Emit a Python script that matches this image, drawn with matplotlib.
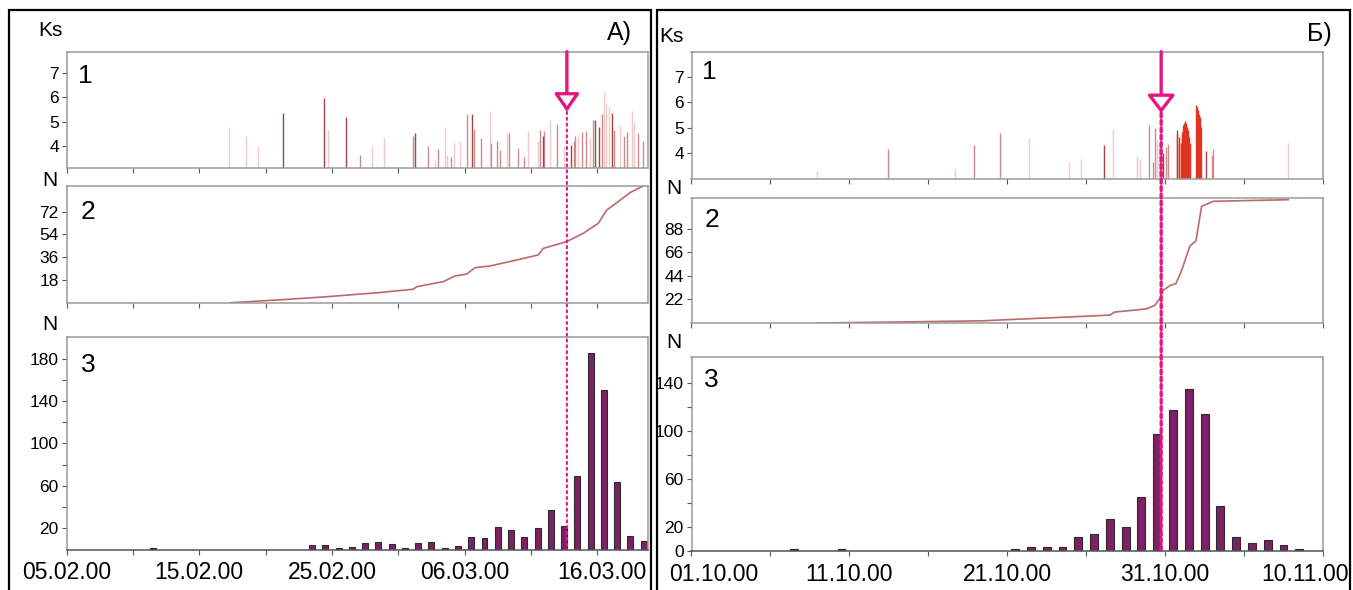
import numpy as np
import pandas as pd
import matplotlib
matplotlib.use('Agg')
import matplotlib.pyplot as plt
import matplotlib.dates as mdates
import matplotlib.transforms as mtrans
from matplotlib.patches import Rectangle, ConnectionPatch
from matplotlib.ticker import FixedLocator, NullFormatter

plt.rcParams['font.family'] = ['Liberation Sans', 'DejaVu Sans']

W, H = 1353, 590

# ---------------- panel A) : February - March 2000 ----------------
start_a = '2000-02-05'
span_a = 43.82  # days shown
# Ks events: day offset from start, energy class, shade (0 dark .. 2 light)
ks_a_day = [12.27, 13.50, 14.41, 16.29, 19.40, 19.71, 21.04, 22.12, 23.00, 23.90,
            26.09, 26.26, 27.24, 27.77, 27.97, 28.52, 28.65, 28.98, 29.18, 29.65,
            30.18, 30.53, 30.69, 31.21, 31.91, 31.97, 32.46, 32.64, 33.17, 33.37,
            34.00, 34.50, 34.75, 35.55, 35.70, 35.89, 36.01, 36.41, 36.99, 37.49,
            37.99, 38.22, 38.34, 38.55, 38.87, 39.17, 39.43, 39.65, 39.80, 40.13,
            40.35, 40.48, 40.63, 40.86, 41.11, 41.26, 41.71, 41.99, 42.22, 42.64,
            42.79, 43.09, 43.42]
ks_a_val = [4.79, 4.41, 4.00, 5.37, 5.96, 4.66, 5.18, 3.63, 4.00, 4.33,
            4.41, 4.52, 4.00, 3.42, 3.86, 4.77, 3.63, 3.56, 4.11, 4.22,
            5.32, 5.32, 4.69, 4.32, 5.45, 4.11, 4.22, 3.84, 4.52, 4.52,
            3.91, 3.54, 4.63, 4.22, 4.66, 4.41, 4.63, 5.07, 4.90, 4.00,
            4.04, 4.22, 4.41, 4.41, 4.59, 4.63, 4.32, 5.07, 5.07, 4.77,
            5.32, 6.23, 5.75, 5.59, 5.37, 4.66, 4.86, 4.41, 4.59, 5.45,
            5.00, 4.52, 4.22]
ks_a_tone = [2, 2, 2, 0, 0, 2, 0, 1, 2, 2,
             1, 0, 1, 2, 1, 2, 2, 1, 2, 2,
             1, 0, 1, 1, 2, 1, 1, 1, 2, 1,
             1, 1, 2, 2, 1, 0, 1, 2, 1, 2,
             0, 1, 1, 2, 1, 1, 2, 1, 0, 0,
             1, 2, 2, 2, 0, 1, 2, 1, 1, 2,
             2, 1, 1]
# cumulative number of events
cum_a_day = [12.27, 16.3, 19.61, 23.5, 26.13, 26.39, 28.39, 29.28, 30.16, 30.78,
             31.91, 33.8, 35.55, 35.93, 37.69, 38.94, 40.08, 40.71, 41.33, 42.46, 43.47]
cum_a_n = [0, 2.5, 4.8, 8.0, 10.7, 12.7, 16.7, 21.2, 22.7, 27.7,
           29.1, 33.5, 37.8, 43.0, 48.3, 54.9, 62.8, 73.3, 78.0, 87.0, 92.3]
# daily number of events
bar_a_day = [6, 18, 19, 20, 21, 22, 23, 24, 25, 26, 27, 28, 29, 30, 31, 32, 33, 34,
             35, 36, 37, 38, 39, 40, 41, 42, 43]
bar_a_n = [1, 4, 4, 1, 2, 6, 7, 5, 1, 6, 7, 1, 3, 12, 11, 21, 18, 12,
           20, 37, 22, 69, 185, 150, 64, 13, 8]
ticks_a = ['2000-02-05', '2000-02-15', '2000-02-25', '2000-03-06', '2000-03-16']
marker_a = '2000-03-13 17:00'

# ---------------- panel Б) : October - November 2000 ----------------
start_b = '2000-10-01'
span_b = 40.0
ks_b_day = [7.93, 12.43, 16.69, 17.91, 19.52, 21.37, 23.89, 24.69, 26.12, 26.68,
            28.19, 28.40, 28.99, 29.21, 29.37, 29.50, 29.63, 29.75, 29.88, 30.05,
            30.18,
            30.73, 30.78, 30.85, 30.91, 30.98, 31.04, 31.10, 31.15, 31.21, 31.27,
            31.33, 31.39, 31.45, 31.51, 31.57,
            31.98, 32.03, 32.08, 32.13, 32.18, 32.23, 32.28,
            32.58, 32.96, 33.05, 37.80]
ks_b_val = [3.32, 4.18, 3.41, 4.31, 4.81, 4.59, 3.67, 3.80, 4.31, 4.96,
            3.89, 3.80, 5.10, 3.67, 4.98, 4.52, 4.39, 4.26, 4.00, 4.26,
            4.36,
            4.91, 4.75, 4.63, 4.45, 4.39, 4.60, 4.85, 5.11, 5.20, 5.28,
            5.20, 5.04, 4.90, 4.65, 4.40,
            5.89, 5.80, 5.70, 5.55, 5.44, 5.25, 5.04,
            4.09, 3.93, 4.18, 4.39]
ks_b_tone = [2, 1, 2, 1, 1, 2, 2, 2, 0, 2,
             2, 2, 1, 1, 1, 2, 2, 1, 0, 1,
             1,
             3, 3, 3, 3, 3, 3, 3, 3, 3, 3,
             3, 3, 3, 3, 3,
             3, 3, 3, 3, 3, 3, 3,
             0, 1, 1, 2]
cum_b_day = [7.98, 13.48, 18.56, 19.54, 24.19, 26.5, 26.8, 28.83, 29.35, 29.67,
             29.88, 30.31, 30.68, 31.04, 31.57, 31.95, 32.31, 33.05, 37.8]
cum_b_n = [0, 1.0, 2.1, 2.8, 5.8, 7.4, 10.2, 13.2, 16.6, 22.8,
           30.5, 35.1, 36.7, 49.0, 72.0, 76.7, 109.0, 113.7, 115.2]
bar_b_day = [6, 9, 20, 21, 22, 23, 24, 25, 26, 27, 28, 29, 30, 31, 32, 33, 34, 35,
             36, 37, 38]
bar_b_n = [1, 1, 1, 3, 3, 3, 11, 14, 26, 20, 45, 97, 117, 135, 114, 37, 11, 6,
           9, 5, 1]
ticks_b = ['2000-10-01', '2000-10-11', '2000-10-21', '2000-10-31', '2000-11-10']
marker_b = '2000-10-30 18:00'

TONES = ['#9e4646', '#cf8a8a', '#f0caca', '#e03322']
MAGENTA = '#e2177f'


def days_to_dates(start, days):
    return pd.Timestamp(start) + pd.to_timedelta(np.asarray(days, dtype=float), unit='D')


def fig_axes(fig, x0, x1, y0, y1):
    return fig.add_axes([x0 / W, 1 - y1 / H, (x1 - x0) / W, (y1 - y0) / H])


def style_axes(ax, start, span, ticks, show_dates):
    for s in ax.spines.values():
        s.set_color('#9a9a9a')
        s.set_linewidth(1.1)
    s0 = pd.Timestamp(start)
    ax.set_xlim(mdates.date2num(s0), mdates.date2num(s0 + pd.Timedelta(days=span)))
    ax.xaxis.set_major_locator(FixedLocator(mdates.date2num(pd.to_datetime(ticks))))
    minor = pd.date_range(s0, s0 + pd.Timedelta(days=span), freq='5D')
    ax.xaxis.set_minor_locator(FixedLocator(mdates.date2num(minor)))
    ax.tick_params(axis='both', which='both', direction='out', length=3.5,
                   width=0.8, color='#555555', labelsize=12.5, pad=2)
    if show_dates:
        ax.xaxis.set_major_formatter(mdates.DateFormatter('%d.%m.%y'))
        ax.tick_params(axis='x', labelsize=16.5, pad=5)
        ax.spines['bottom'].set_color('#555555')
    else:
        ax.xaxis.set_major_formatter(NullFormatter())


def draw_panel(fig, box, start, span, ticks, ks_day, ks_val, ks_tone, ks_lim,
               ks_ticks, cum_day, cum_n, cum_lim, cum_ticks, bar_day, bar_n,
               bar_lim, bar_major, bar_minor, bar_width, marker, tip, dot_lw,
               dot_style, head_w):
    x0, x1, r1, r2, r3 = box
    ax1 = fig_axes(fig, x0, x1, *r1)
    ax2 = fig_axes(fig, x0, x1, *r2)
    ax3 = fig_axes(fig, x0, x1, *r3)

    # 1: energy class of events
    t = days_to_dates(start, ks_day)
    tone = np.array(ks_tone)
    val = np.array(ks_val)
    for k in [2, 1, 0, 3]:
        m = tone == k
        ax1.vlines(t[m], ks_lim[0], val[m], colors=TONES[k], lw=1.0)
    ax1.set_ylim(*ks_lim)
    ax1.set_yticks(ks_ticks)

    # 2: cumulative number
    ax2.plot(days_to_dates(start, cum_day), cum_n, color='#bb6a6a', lw=1.2)
    ax2.set_ylim(*cum_lim)
    ax2.set_yticks(cum_ticks)

    # 3: daily number
    bt = days_to_dates(start, np.array(bar_day) + 0.5)
    ax3.bar(bt, bar_n, width=bar_width, color='#7c2262', edgecolor='#2b2b2b', lw=0.8)
    ax3.set_ylim(*bar_lim)
    ax3.set_yticks(bar_major)
    ax3.set_yticks(bar_minor, minor=True)

    style_axes(ax1, start, span, ticks, False)
    style_axes(ax2, start, span, ticks, False)
    style_axes(ax3, start, span, ticks, True)

    # arrow and dotted marker line
    xm = mdates.date2num(pd.Timestamp(marker))
    ax1.annotate('', xy=(xm, tip), xytext=(xm, 1.0), xycoords='data',
                 textcoords=('data', 'axes fraction'), annotation_clip=False,
                 arrowprops=dict(arrowstyle='-|>,head_length=0.55,head_width=%s' % head_w,
                                 mutation_scale=20, fc='white', ec=MAGENTA, lw=2.4,
                                 shrinkA=0, shrinkB=0))
    con = ConnectionPatch(xyA=(xm, tip), coordsA=ax1.transData, xyB=(xm, 0),
                          coordsB=ax3.transData, color=MAGENTA, lw=dot_lw,
                          linestyle=dot_style)
    fig.add_artist(con)
    return ax1, ax2, ax3


def shift_date_label(ax, i, dx):
    # nudge an edge date label sideways (in pixels) so it stays inside the frame
    lab = ax.xaxis.get_major_ticks()[i].label1
    lab.set_transform(lab.get_transform() + mtrans.Affine2D().translate(dx, 0))


fig = plt.figure(figsize=(W / 100, H / 100), dpi=100)

axs_a = draw_panel(fig, (66.5, 648, (51.7, 168.3), (185.7, 302.8), (337.3, 549.5)),
                   start_a, span_a, ticks_a, ks_a_day, ks_a_val, ks_a_tone, (3.08, 7.88),
                   [4, 5, 6, 7], cum_a_day, cum_a_n, (0, 92.5), [18, 36, 54, 72],
                   bar_a_day, bar_a_n, (0, 200), [20, 60, 100, 140, 180],
                   [40, 80, 120, 160], 0.45, marker_a, 5.4, 1.5, (0, (1.0, 1.8)), 0.38)

axs_b = draw_panel(fig, (691.5, 1323, (51.7, 179.3), (198.3, 323.0), (357.3, 550.7)),
                   start_b, span_b, ticks_b, ks_b_day, ks_b_val, ks_b_tone, (2.99, 7.97),
                   [4, 5, 6, 7], cum_b_day, cum_b_n, (0, 116.5), [22, 44, 66, 88],
                   bar_b_day, bar_b_n, (0, 161), [0, 20, 60, 100, 140], [40, 80, 120],
                   0.5, marker_b, 5.57, 2.4, (0, (1.2, 1.0)), 0.42)

shift_date_label(axs_a[2], 4, 5)
shift_date_label(axs_b[2], 0, 22)
shift_date_label(axs_b[2], 4, -18)

# outer frames of the two panels
for fx0, fx1 in [(8.5, 651), (657, 1350)]:
    fig.add_artist(Rectangle((fx0 / W, -0.02), (fx1 - fx0) / W, 1 - 9.5 / H + 0.02,
                             transform=fig.transFigure, fill=False, ec='black', lw=1.6))


def label(x, y, s, size, ha='center'):
    fig.text(x / W, 1 - y / H, s, fontsize=size, ha=ha, va='center')


label(50, 30, 'Ks', 15)
label(50, 181, 'N', 15)
label(50, 325, 'N', 15)
label(85, 76, '1', 19)
label(88, 212, '2', 19)
label(88, 365, '3', 19)
label(632, 33, 'A)', 18, ha='right')

label(671, 36, 'Ks', 15)
label(674, 189, 'N', 15)
label(674, 343, 'N', 15)
label(709, 72, '1', 19)
label(712, 220, '2', 19)
label(711, 380, '3', 19)
label(1332, 34, 'Б)', 18, ha='right')

fig.savefig('out.png', dpi=100)
